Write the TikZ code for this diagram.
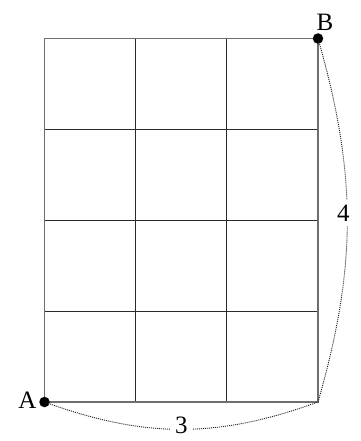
\documentclass[tikz,border=0pt]{standalone}
\usepackage{fontspec}
\setmainfont{Liberation Serif}
\usepackage{tikz}
\usepackage{xcolor}
\usetikzlibrary{positioning, calc}
\definecolor{cFrame}{HTML}{6E6E6E}
\definecolor{cGrid}{HTML}{2A2A2A}
\definecolor{cPath}{HTML}{202020}

\begin{document}
\begin{tikzpicture}[x=1pt, y=-1pt,
    corner/.style={circle, fill=black, inner sep=0pt, minimum size=10.5pt},
    lbl/.style={font=\fontsize{25}{25}\selectfont, text=black, inner sep=1pt},
    span/.style={cPath, line width=0.9pt, dash pattern=on 1pt off 1pt},
  ]
  \useasboundingbox (0,0) rectangle (360,441);
  % cells
  \foreach \k in {1,2}{
    \draw[cGrid, line width=1pt] (44.5+\k*91.2, 38.5) -- (44.5+\k*91.2, 402);
  }
  \foreach \k in {1,2,3}{
    \draw[cGrid, line width=1pt] (44.5, 38.5+\k*90.9) -- (318, 38.5+\k*90.9);
  }
  \draw[cFrame, line width=1.3pt] (44.5,38.5) rectangle (318,402);
  \coordinate (C) at (318,402);
  \node[corner] (A) at (44.5,402) {};
  \node[corner] (B) at (318,38.5) {};
  \node[lbl, left=1.5pt of A, yshift=2pt] (tA) {A};
  \node[lbl, above=1pt of B, xshift=7pt] (tB) {B};
  % distances
  \draw[span] (A.center) to[out=-20, in=-160]
    node[lbl, fill=white, inner xsep=5pt, yshift=4pt] (three) {3} (C);
  \draw[span] (B.center) to[out=-74, in=74]
    node[lbl, fill=white, inner ysep=5pt, xshift=-4pt, yshift=7pt] (four) {4} (C);
\end{tikzpicture}
\end{document}
